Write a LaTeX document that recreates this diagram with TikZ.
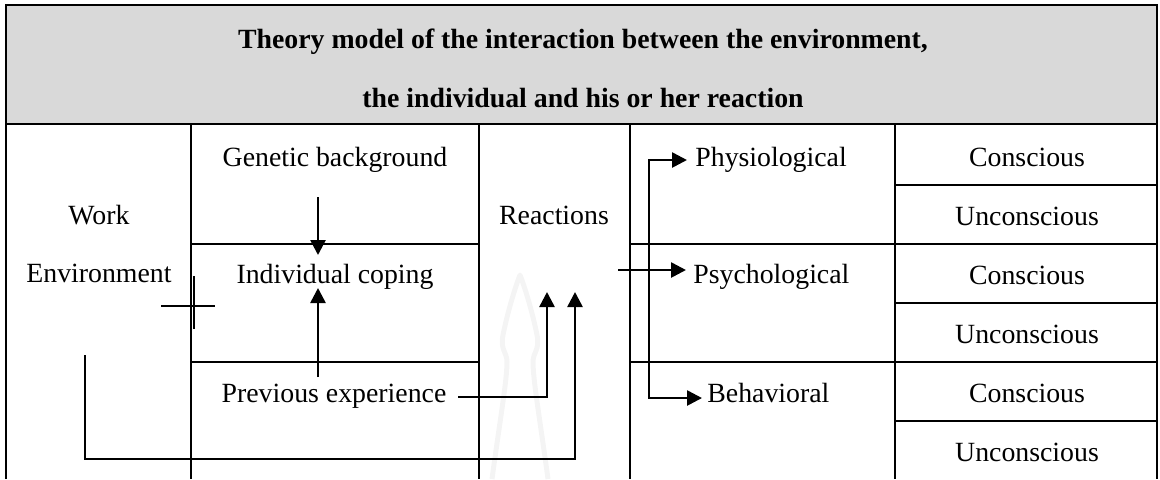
\documentclass[tikz,border=0pt]{standalone}
\usepackage{fontspec}
\setmainfont{Liberation Serif}
\usetikzlibrary{arrows.meta}
\definecolor{titlegray}{HTML}{D9D9D9}
\definecolor{markgray}{HTML}{F4F4F4}
\begin{document}
\begin{tikzpicture}[x=0.5pt,y=-0.5pt,
  rule/.style={line width=1.3pt},
  link/.style={line width=1.3pt},
  tip/.tip={Triangle[length=7.5pt,width=7.5pt]},
  arr/.style={link,-tip},
  lbl/.style={anchor=base,inner sep=0pt,font=\fontsize{13.9}{16}\selectfont},
  lbll/.style={lbl,anchor=base west},
  ttl/.style={lbl,font=\fontsize{13.9}{16}\selectfont\bfseries}]
\useasboundingbox (0,0) rectangle (1160,479);

% title band
\fill[titlegray] (6,5) rectangle (1157,124);

% faint spire emblem behind the reactions column
\draw[markgray,line width=2.5pt,line join=round]
  (492,479) .. controls (500,420) and (507,380) .. (507,362)
  .. controls (507,352) and (500,350) .. (503,335)
  .. controls (508,310) and (516,285) .. (520,275)
  .. controls (524,285) and (532,310) .. (537,335)
  .. controls (540,350) and (533,352) .. (533,362)
  .. controls (533,380) and (540,420) .. (548,479);

% table frame
\draw[rule] (6,479) -- (6,5) -- (1157,5) -- (1157,479);
\draw[rule] (6,124) -- (1157,124);
\foreach \x in {191,479,630,895} \draw[rule] (\x,124) -- (\x,479);
\draw[rule] (191,244) -- (479,244);
\draw[rule] (191,362) -- (479,362);
\draw[rule] (630,244) -- (1157,244);
\draw[rule] (630,362) -- (1157,362);
\foreach \y in {185,303,421} \draw[rule] (895,\y) -- (1157,\y);

% title
\node[ttl] (t1) at (583,48) {Theory model of the interaction between the environment,};
\node[ttl] (t2) at (583,107) {the individual and his or her reaction};

% left part
\node[lbl] (work) at (99,224) {Work};
\node[lbl] (env) at (99,282) {Environment};
\node[lbl] (gen) at (335,166) {Genetic background};
\node[lbl] (ind) at (335,283) {Individual coping};
\node[lbl] (prev) at (334,402) {Previous experience};
\node[lbl] (react) at (554,224) {Reactions};

% reaction types
\node[lbll] (phys) at (695,166) {Physiological};
\node[lbll] (psy) at (693,283) {Psychological};
\node[lbll] (beh) at (707,402) {Behavioral};

% conscious / unconscious
\node[lbl] (c1) at (1027,166) {Conscious};
\node[lbl] (u1) at (1027,225) {Unconscious};
\node[lbl] (c2) at (1027,284) {Conscious};
\node[lbl] (u2) at (1027,343) {Unconscious};
\node[lbl] (c3) at (1027,402) {Conscious};
\node[lbl] (u3) at (1027,461) {Unconscious};

% connector end points
\coordinate (genout) at (318,197);
\coordinate (indin) at (318,255);
\coordinate (prevup) at (318,377);
\coordinate (indbelow) at (318,288);
\coordinate (crossc) at (194,306);
\coordinate (envloop) at (85,355);
\coordinate (loopcorner) at (85,459);
\coordinate (prevout) at (458,397);
\coordinate (reactin1) at (547,292);
\coordinate (reactin2) at (575,292);
\coordinate (reactout) at (618,270);
\coordinate (psyin) at (686,270);
\coordinate (physin) at (687,160);
\coordinate (behin) at (702,398);
\coordinate (split) at (649,160);

% connectors
\draw[arr] (genout) -- (indin);
\draw[arr] (prevup) -- (indbelow);
\draw[link] ([xshift=-16.5pt]crossc) -- ([xshift=10.5pt]crossc);
\draw[link] ([yshift=15pt]crossc) -- ([yshift=-11.5pt]crossc);
\draw[arr] (envloop) -- (loopcorner) -| (reactin2);
\draw[arr] (prevout) -| (reactin1);
\draw[arr] (reactout) -- (psyin);
\draw[tip-tip,link] (physin) -- (split) |- (behin);
\end{tikzpicture}
\end{document}
